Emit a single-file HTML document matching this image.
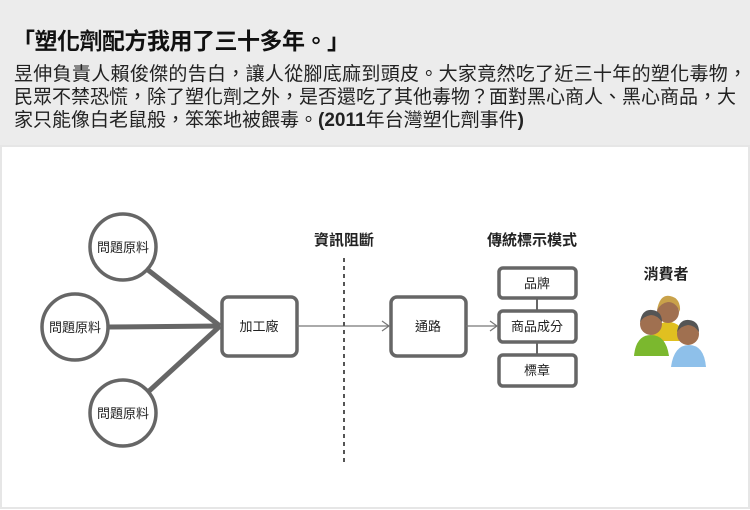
<!DOCTYPE html>
<html><head><meta charset="utf-8"><style>
body{margin:0;width:750px;height:510px;background:#fff;font-family:"Liberation Sans","Noto Sans CJK TC",sans-serif;overflow:hidden}
.hd{position:absolute;left:0;top:0;width:750px;height:146px;background:#ececec}
.t{position:absolute;left:12px;top:22px;font-size:23px;font-weight:bold;color:#111;letter-spacing:-0.5px}
.p{position:absolute;left:14px;top:63px;width:740px;font-size:19px;line-height:23px;color:#222;white-space:nowrap}
</style></head><body>
<div class="hd"></div>
<div class="t">「塑化劑配方我用了三十多年。」</div>
<div class="p"><span style="letter-spacing:0.3px">昱伸負責人賴俊傑的告白，讓人從腳底麻到頭皮。大家竟然吃了近三十年的塑化毒物，</span><br><span style="letter-spacing:0px">民眾不禁恐慌，除了塑化劑之外，是否還吃了其他毒物？面對黑心商人、黑心商品，大</span><br>家只能像白老鼠般，笨笨地被餵毒。<b>(2011</b>年台灣塑化劑事件<b>)</b></div>
<svg style="position:absolute;left:0;top:0" width="750" height="510" font-family="Liberation Sans, Noto Sans CJK TC, sans-serif">
<rect x="1" y="146" width="748" height="362" fill="none" stroke="#e6e6e6" stroke-width="2"/>
<g stroke="#666" stroke-width="5" fill="none">
<line x1="148" y1="270" x2="220" y2="326"/>
<line x1="108" y1="327" x2="220" y2="326"/>
<line x1="148" y1="392" x2="220" y2="326"/>
</g>
<g stroke="#666" stroke-width="3.5" fill="#fff">
<circle cx="123" cy="247" r="33"/>
<circle cx="75" cy="327" r="33"/>
<circle cx="123" cy="413" r="33"/>
<rect x="222" y="297" width="75" height="59" rx="6"/>
<rect x="391" y="297" width="75" height="59" rx="6"/>
<rect x="499" y="268" width="77" height="30" rx="4"/>
<rect x="499" y="311" width="77" height="31" rx="4"/>
<rect x="499" y="355" width="77" height="31" rx="4"/>
</g>
<g stroke="#666" stroke-width="2">
<line x1="537" y1="299" x2="537" y2="310"/>
<line x1="537" y1="343" x2="537" y2="354"/>
</g>
<line x1="297" y1="326" x2="389" y2="326" stroke="#777" stroke-width="1.2"/>
<path d="M382 321 L389 326 L382 331" fill="none" stroke="#777" stroke-width="1.2"/>
<line x1="466" y1="326" x2="497" y2="326" stroke="#777" stroke-width="1.2"/>
<path d="M490 321 L497 326 L490 331" fill="none" stroke="#777" stroke-width="1.2"/>
<line x1="344" y1="258" x2="344" y2="462" stroke="#555" stroke-width="2" stroke-dasharray="4,4"/>
<g font-size="13" fill="#222" text-anchor="middle">
<text x="123" y="252">問題原料</text>
<text x="75" y="332">問題原料</text>
<text x="123" y="418">問題原料</text>
<text x="259" y="331">加工廠</text>
<text x="428" y="331">通路</text>
<text x="537" y="288">品牌</text>
<text x="537" y="331">商品成分</text>
<text x="537" y="375">標章</text>
</g>
<g font-size="15" font-weight="bold" fill="#222" text-anchor="middle">
<text x="344" y="245">資訊阻斷</text>
<text x="532" y="245">傳統標示模式</text>
<text x="666" y="279">消費者</text>
</g>
<g>
<path d="M651 341 Q653 322 668 322 Q683 322 686 341Z" fill="#e0c020"/>
<circle cx="668" cy="312" r="11" fill="#a07050"/><path d="M657 310 Q660 294 670 296 Q681 298 680 312 Q676 302 668 302 Q661 303 657 310Z" fill="#c9a24a"/>
<path d="M634 356 Q636 335 651 335 Q666 335 669 356Z" fill="#7bb82e"/>
<circle cx="651" cy="324" r="11" fill="#a07050"/><path d="M640 322 Q642 309 652 310 Q662 311 662 322 Q657 315 651 315 Q644 316 640 322Z" fill="#555"/>
<path d="M671 367 Q674 345 689 345 Q704 345 706 367Z" fill="#8ec0ea"/>
<circle cx="688" cy="334" r="11" fill="#a07050"/><path d="M677 332 Q679 319 689 320 Q699 321 699 332 Q694 325 688 325 Q681 326 677 332Z" fill="#555"/>
</g>
</svg>
</body></html>
